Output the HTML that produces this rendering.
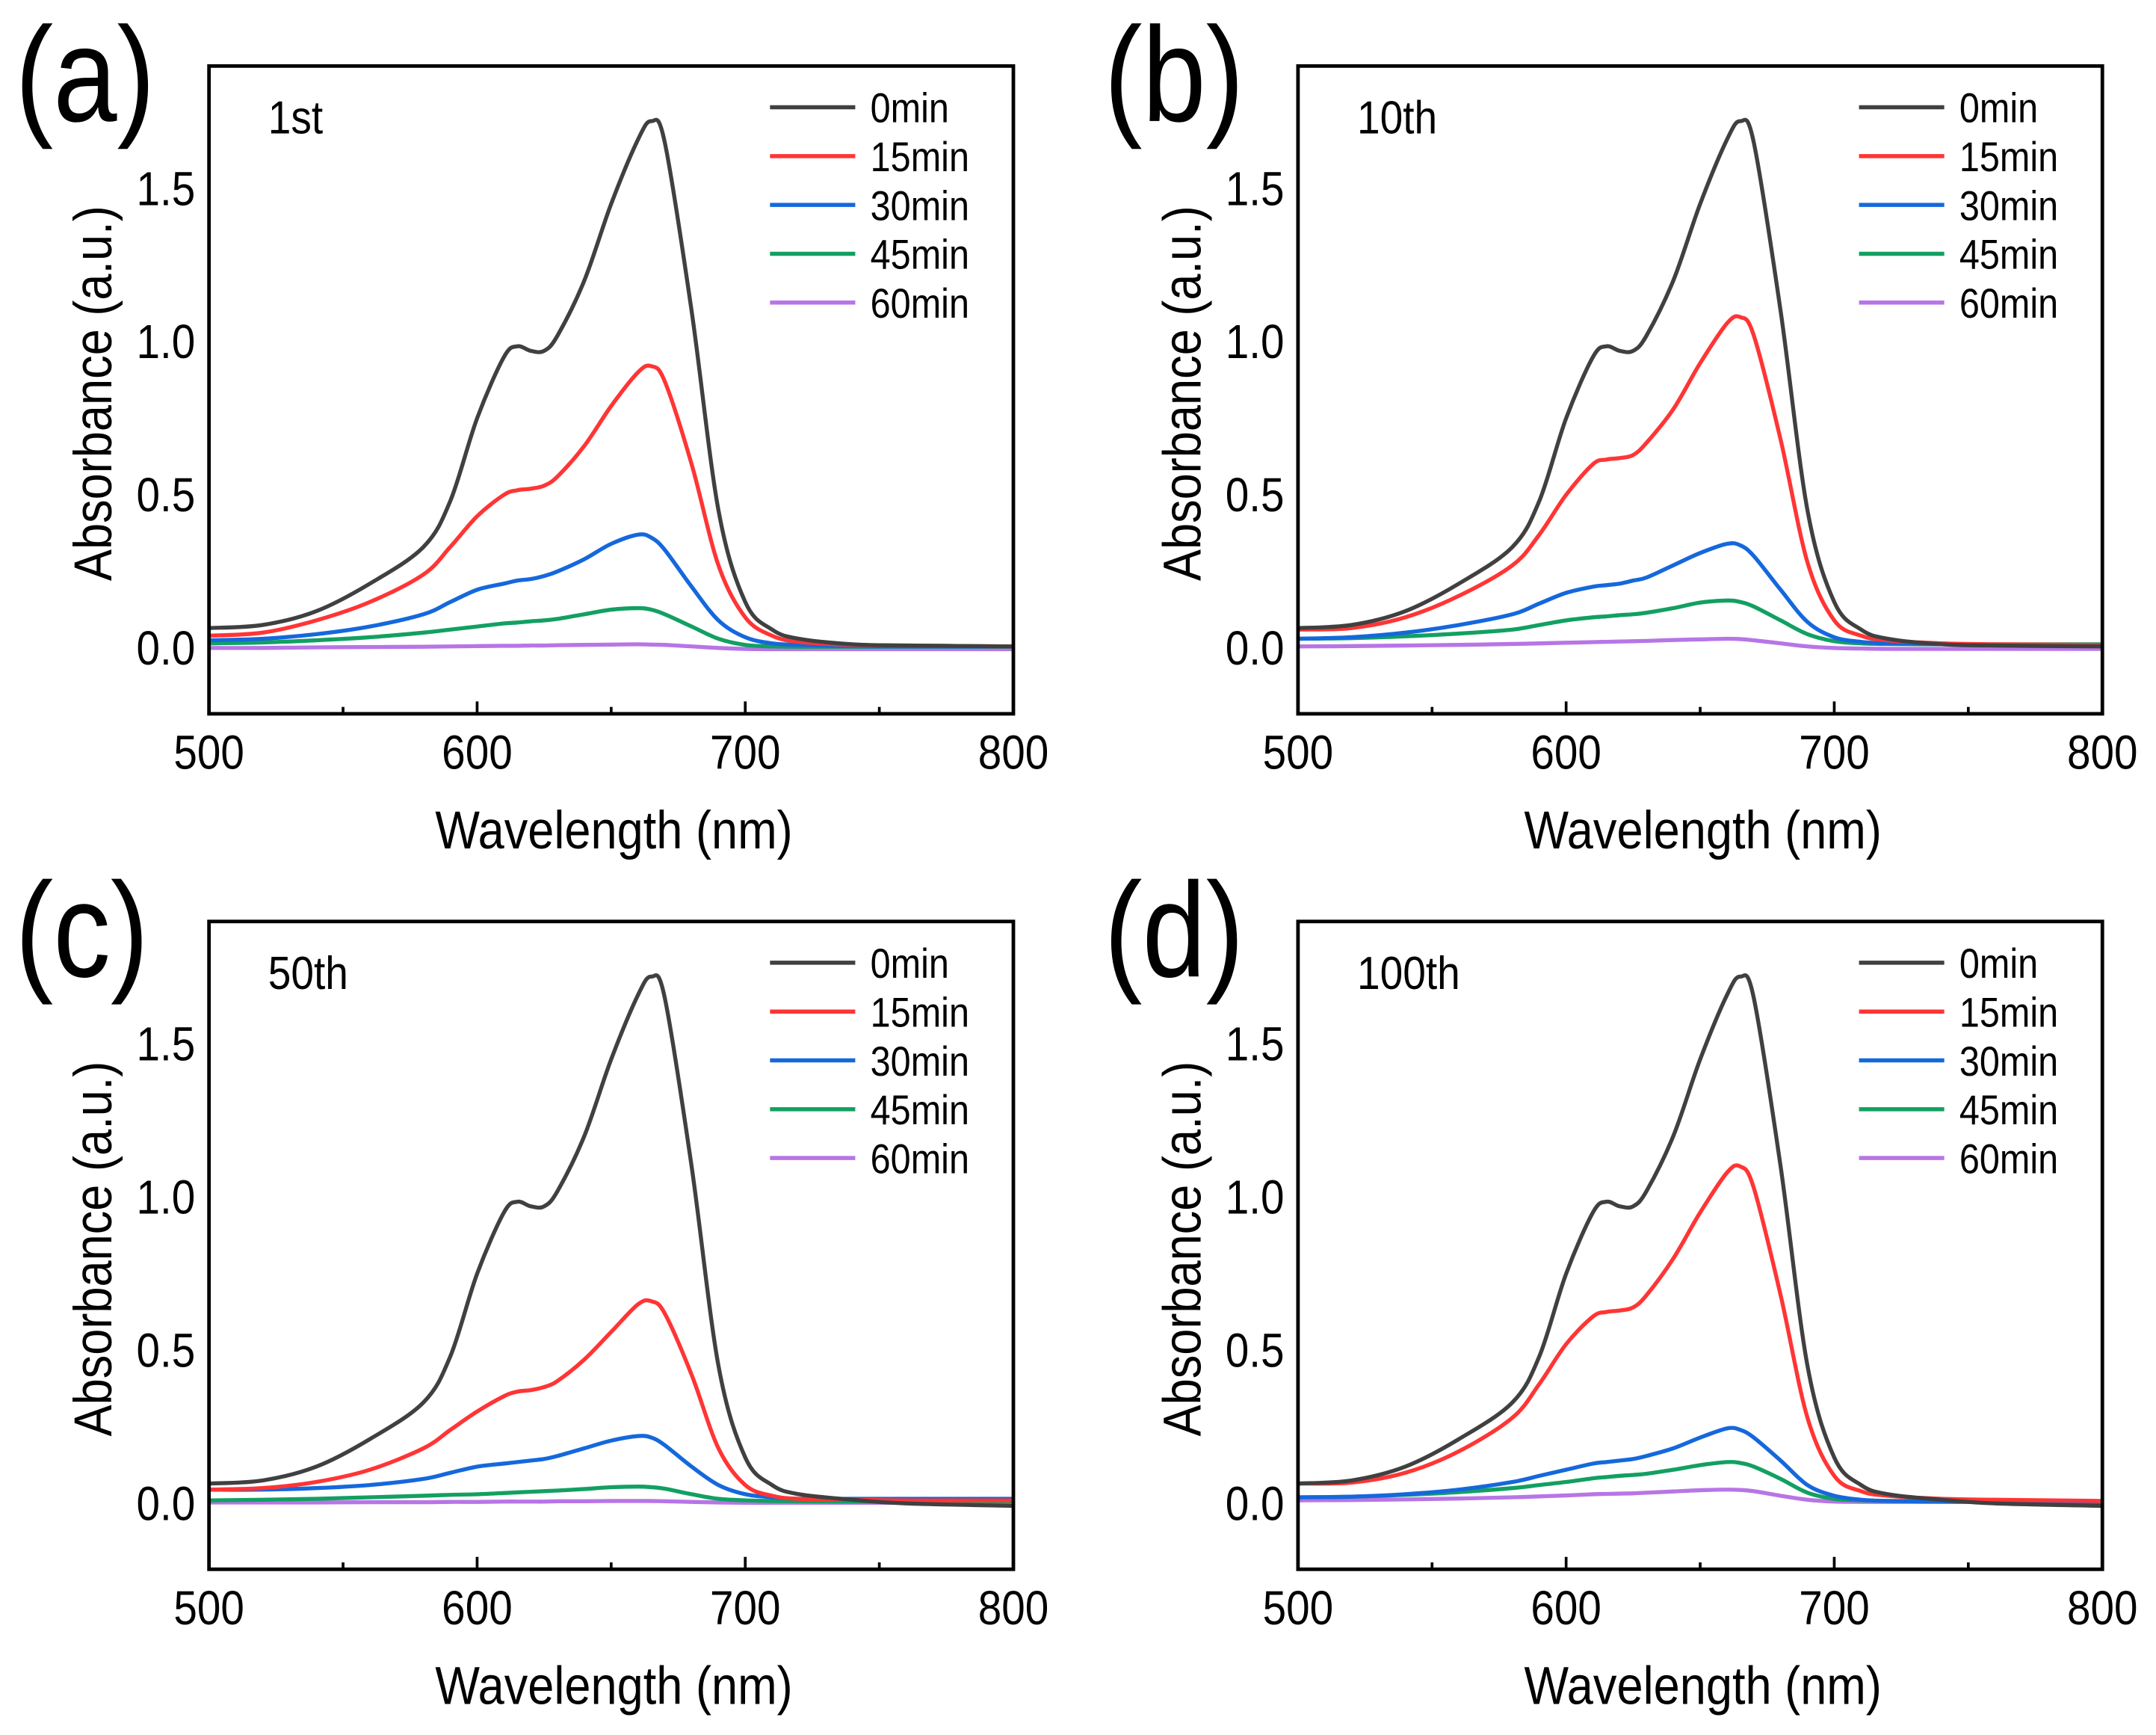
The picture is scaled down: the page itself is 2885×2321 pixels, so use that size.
<!DOCTYPE html>
<html><head><meta charset="utf-8"><style>
html,body{margin:0;padding:0;background:#fff}
svg{display:block}
text{font-family:"Liberation Sans",sans-serif;fill:#000}
</style></head><body>
<svg id="fig" width="2885" height="2321" viewBox="0 0 1568 1261.5" preserveAspectRatio="none" xmlns="http://www.w3.org/2000/svg"></svg>
<script>
const wl=[500,520,540,560,580,590,600,610,615,620,625,630,640,650,660,665,670,680,690,700,710,720,740,760,800];
const seriesNames=["0min","15min","30min","45min","60min"];
const seriesColors=["#404040","#ff3535","#1568dc","#12a062","#b775e6"];
const xTicks=[500,600,700,800];
const yTicks=["0.0","0.5","1.0","1.5"];
const panelLetters=["(a)","(b)","(c)","(d)"];
const panelTitles=["1st","10th","50th","100th"];
const a0=[0.065,0.075,0.12,0.21,0.33,0.48,0.75,0.95,0.985,0.97,0.97,1.02,1.2,1.45,1.66,1.72,1.65,1.1,0.45,0.15,0.06,0.03,0.012,0.008,0.005];
const a15=[0.04,0.05,0.09,0.15,0.24,0.33,0.43,0.5,0.515,0.52,0.53,0.56,0.66,0.79,0.9,0.92,0.87,0.6,0.27,0.1,0.04,0.02,0.01,0.008,0.005];
const a30=[0.025,0.03,0.045,0.07,0.11,0.15,0.19,0.21,0.22,0.225,0.235,0.25,0.29,0.34,0.37,0.36,0.32,0.2,0.09,0.035,0.015,0.01,0.006,0.005,0.005];
const a45=[0.015,0.018,0.025,0.035,0.05,0.06,0.07,0.08,0.083,0.087,0.09,0.095,0.11,0.125,0.13,0.125,0.11,0.07,0.03,0.01,0.005,0.004,0.004,0.004,0.004];
const a60=[0.0,0.0,0.002,0.003,0.004,0.005,0.006,0.007,0.007,0.008,0.008,0.009,0.01,0.011,0.012,0.011,0.01,0.005,0.0,-0.003,-0.004,-0.004,-0.004,-0.004,-0.004];
const b0=[0.065,0.075,0.12,0.21,0.33,0.48,0.75,0.95,0.985,0.97,0.97,1.02,1.2,1.45,1.66,1.72,1.65,1.1,0.45,0.15,0.06,0.03,0.012,0.008,0.005];
const b15=[0.06,0.065,0.1,0.17,0.27,0.37,0.5,0.6,0.615,0.62,0.63,0.67,0.78,0.93,1.06,1.08,1.02,0.68,0.28,0.09,0.04,0.025,0.015,0.012,0.01];
const b30=[0.03,0.035,0.05,0.075,0.11,0.145,0.18,0.2,0.205,0.21,0.22,0.23,0.27,0.31,0.34,0.335,0.3,0.19,0.085,0.035,0.02,0.015,0.012,0.01,0.01];
const b45=[0.03,0.032,0.038,0.047,0.06,0.075,0.09,0.1,0.103,0.107,0.11,0.115,0.13,0.148,0.155,0.15,0.135,0.09,0.045,0.022,0.015,0.013,0.012,0.012,0.012];
const b60=[0.005,0.006,0.008,0.01,0.013,0.015,0.017,0.019,0.02,0.021,0.022,0.023,0.026,0.028,0.03,0.029,0.025,0.015,0.005,0.0,-0.002,-0.003,-0.003,-0.003,-0.003];
const c0=[0.065,0.075,0.12,0.21,0.33,0.48,0.75,0.95,0.985,0.97,0.97,1.02,1.2,1.45,1.66,1.72,1.65,1.1,0.45,0.15,0.06,0.03,0.012,0.0,-0.008];
const c15=[0.045,0.05,0.07,0.11,0.18,0.24,0.3,0.35,0.365,0.37,0.38,0.4,0.47,0.56,0.65,0.66,0.62,0.42,0.18,0.06,0.025,0.015,0.012,0.01,0.01];
const c30=[0.045,0.045,0.05,0.06,0.08,0.1,0.12,0.13,0.135,0.14,0.145,0.155,0.18,0.205,0.22,0.215,0.19,0.12,0.06,0.03,0.02,0.015,0.015,0.015,0.015];
const c45=[0.01,0.012,0.015,0.02,0.025,0.028,0.03,0.034,0.036,0.038,0.04,0.042,0.047,0.053,0.055,0.053,0.048,0.03,0.015,0.01,0.008,0.007,0.006,0.006,0.006];
const c60=[0.003,0.003,0.003,0.004,0.004,0.005,0.005,0.006,0.006,0.006,0.006,0.007,0.007,0.008,0.008,0.008,0.007,0.005,0.003,0.002,0.002,0.002,0.002,0.002,0.002];
const d0=[0.065,0.075,0.12,0.21,0.33,0.48,0.75,0.95,0.985,0.97,0.97,1.02,1.2,1.45,1.66,1.72,1.65,1.1,0.45,0.15,0.06,0.03,0.012,0.0,-0.008];
const d15=[0.065,0.068,0.1,0.17,0.28,0.39,0.52,0.61,0.625,0.63,0.64,0.68,0.8,0.95,1.08,1.1,1.03,0.68,0.28,0.09,0.04,0.025,0.015,0.012,0.008];
const d30=[0.02,0.022,0.03,0.045,0.07,0.09,0.11,0.13,0.135,0.14,0.145,0.155,0.18,0.215,0.245,0.24,0.215,0.14,0.06,0.025,0.012,0.008,0.006,0.005,0.005];
const d45=[0.02,0.022,0.028,0.037,0.05,0.06,0.07,0.082,0.086,0.09,0.093,0.097,0.11,0.125,0.135,0.132,0.12,0.08,0.035,0.015,0.01,0.008,0.007,0.006,0.005];
const d60=[0.01,0.011,0.013,0.016,0.02,0.023,0.026,0.03,0.031,0.032,0.033,0.035,0.039,0.043,0.045,0.044,0.04,0.025,0.012,0.006,0.005,0.005,0.005,0.005,0.005];
const panelData=[[a0,a15,a30,a45,a60],[b0,b15,b30,b45,b60],[c0,c15,c30,c45,c60],[d0,d15,d30,d45,d60]];

const NS="http://www.w3.org/2000/svg";
const svg=document.getElementById('fig');
function mk(tag,attrs,parent,txt){const e=document.createElementNS(NS,tag);for(const k in attrs)e.setAttribute(k,attrs[k]);if(txt!==undefined)e.textContent=txt;parent.appendChild(e);return e;}
function txt(parent,x,y,size,anchor,str,sx,rot){
  let tr='translate('+x+' '+y+')'+(rot?' rotate('+rot+')':'')+' scale('+sx+' 1)';
  return mk('text',{x:0,y:0,'font-size':size,'text-anchor':anchor,transform:tr},parent,str);
}
const panels=[{L:152,T:48},{L:944,T:48},{L:152,T:670},{L:944,T:670}];
const W=585,H=471,XMIN=500,XMAX=800,YMIN=-0.215,YMAX=1.9;
panels.forEach((p,pi)=>{
  const g=mk('g',{},svg);
  
  
  const xs=v=>p.L+(v-XMIN)/(XMAX-XMIN)*W;
  const ys=v=>p.T+H-(v-YMIN)/(YMAX-YMIN)*H;
  const lab=txt(g,p.L-141,p.T+40,98,'start',panelLetters[pi],0.85);
  
  
  const clip=mk('clipPath',{id:'clip'+pi},g);
  mk('rect',{x:p.L,y:p.T,width:W,height:H},clip);
  const lines=mk('g',{'clip-path':'url(#clip'+pi+')'},g);
  for(let s=4;s>=0;s--){
    const d=panelData[pi][s];
    const pts=wl.map((w,i)=>[xs(w),ys(d[i])]);
    let path='M'+pts[0][0]+','+pts[0][1];
    for(let i=0;i<pts.length-1;i++){
      const p0=pts[Math.max(0,i-1)],p1=pts[i],p2=pts[i+1],p3=pts[Math.min(pts.length-1,i+2)];
      const c1=[p1[0]+(p2[0]-p0[0])/6,p1[1]+(p2[1]-p0[1])/6];
      const c2=[p2[0]-(p3[0]-p1[0])/6,p2[1]-(p3[1]-p1[1])/6];
      path+=' C'+c1[0]+','+c1[1]+' '+c2[0]+','+c2[1]+' '+p2[0]+','+p2[1];
    }
    const pe=mk('path',{d:path,fill:'none',stroke:seriesColors[s],'stroke-width':2.9,'stroke-linejoin':'round'},lines);
    
    
  }
  const fr=mk('rect',{x:p.L,y:p.T,width:W,height:H,fill:'none',stroke:'#000','stroke-width':2.6},g);
  
  
  [550,600,650,700,750].forEach(v=>{
    const len=(v%100===0)?9:5;
    mk('line',{x1:xs(v),x2:xs(v),y1:p.T+H,y2:p.T+H-len,stroke:'#000','stroke-width':2},g);
  });
  xTicks.forEach(v=>{
    const t=txt(g,xs(v),p.T+H+40,35,'middle',String(v),0.88);
    
    
  });
  yTicks.forEach(v=>{
    const t=txt(g,p.L-10,ys(parseFloat(v))+12,35,'end',v,0.88);
    
    
  });
  const xt=txt(g,p.L+W/2+2,p.T+H+98,39,'middle','Wavelength (nm)',0.88);
  
  
  const yt=txt(g,p.L-71,p.T+238,39,'middle','Absorbance (a.u.)',0.88,-90);
  
  
  const tt=txt(g,p.L+43,p.T+49,34,'start',panelTitles[pi],0.88);
  
  
  seriesNames.forEach((n,s)=>{
    const ly=p.T+30+s*35.5;
    const le=mk('g',{},g);
    
    
    mk('line',{x1:p.L+408,x2:p.L+470,y1:ly,y2:ly,stroke:seriesColors[s],'stroke-width':3},le);
    txt(le,p.L+481,ly+11,30,'start',n,0.88);
  });
});
</script>
</body></html>
